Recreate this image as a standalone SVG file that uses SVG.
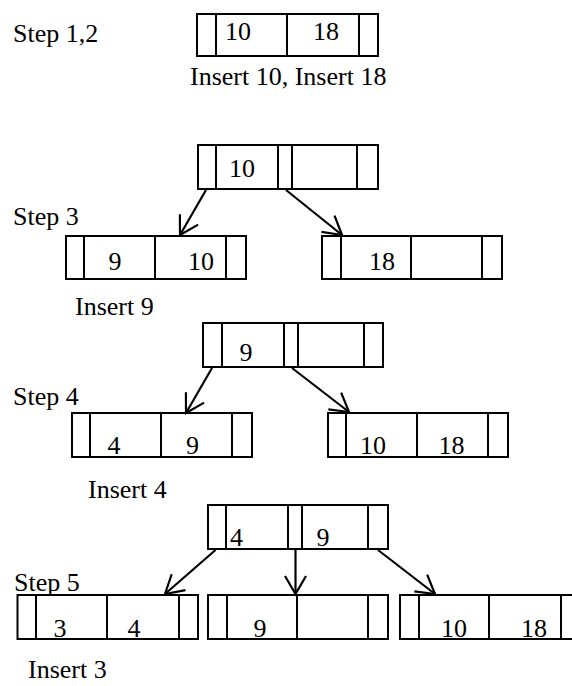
<svg xmlns="http://www.w3.org/2000/svg" width="572" height="686" viewBox="0 0 572 686">
  <style>
    .box { fill: #fff; stroke: #000; stroke-width: 2; }
    .div { stroke: #000; stroke-width: 2; }
    text { font-family: 'Liberation Serif', serif; font-size: 26px; fill: #000; }
    .k { text-anchor: middle; }
    .edge { stroke: #000; stroke-width: 2.2; fill: none; marker-end: url(#arr); }
  </style>
  <defs>
    <marker id="arr" markerUnits="userSpaceOnUse" markerWidth="30" markerHeight="30" refX="0" refY="0" orient="auto" overflow="visible">
      <path d="M-18,-10.5 L0,0 L-18,10.5" fill="none" stroke="#000" stroke-width="2.2"/>
    </marker>
  </defs>
  <rect width="572" height="686" fill="#fff"/>

  <!-- captions -->
  <g id="labels" font-family="Liberation Serif, serif">
    <text x="13" y="42">Step 1,2</text>
    <text x="190" y="85">Insert 10, Insert 18</text>
    <text x="13" y="225">Step 3</text>
    <text x="75" y="315">Insert 9</text>
    <text x="13" y="405">Step 4</text>
    <text x="88" y="498">Insert 4</text>
    <text x="14" y="591">Step 5</text>
    <text x="28" y="678">Insert 3</text>
  </g>

  <!-- steps 1,2 -->
  <g id="n1" font-family="Liberation Serif, serif">
    <rect class="box" x="197" y="14" width="181" height="42"/>
    <line class="div" x1="216" y1="14" x2="216" y2="56"/>
    <line class="div" x1="287" y1="14" x2="287" y2="56"/>
    <line class="div" x1="359" y1="14" x2="359" y2="56"/>
    <text class="k" x="238" y="40">10</text>
    <text class="k" x="326" y="40">18</text>
  </g>

  <!-- step 3 -->
  <g id="n3root" font-family="Liberation Serif, serif">
    <rect class="box" x="198" y="145" width="180" height="44"/>
    <line class="div" x1="216" y1="145" x2="216" y2="189"/>
    <line class="div" x1="278" y1="145" x2="278" y2="189"/>
    <line class="div" x1="292" y1="145" x2="292" y2="189"/>
    <line class="div" x1="357" y1="145" x2="357" y2="189"/>
    <text class="k" x="242" y="177">10</text>
  </g>
  <g id="n3left" font-family="Liberation Serif, serif">
    <rect class="box" x="66" y="236" width="180" height="43"/>
    <line class="div" x1="84" y1="236" x2="84" y2="279"/>
    <line class="div" x1="155" y1="236" x2="155" y2="279"/>
    <line class="div" x1="226" y1="236" x2="226" y2="279"/>
    <text class="k" x="115" y="270">9</text>
    <text class="k" x="201" y="270">10</text>
  </g>
  <g id="n3right" font-family="Liberation Serif, serif">
    <rect class="box" x="322" y="236" width="180" height="43"/>
    <line class="div" x1="341" y1="236" x2="341" y2="279"/>
    <line class="div" x1="411" y1="236" x2="411" y2="279"/>
    <line class="div" x1="482" y1="236" x2="482" y2="279"/>
    <text class="k" x="382" y="270">18</text>
  </g>

  <!-- step 4 -->
  <g id="n4root" font-family="Liberation Serif, serif">
    <rect class="box" x="203" y="323" width="180" height="44"/>
    <line class="div" x1="222" y1="323" x2="222" y2="367"/>
    <line class="div" x1="284" y1="323" x2="284" y2="367"/>
    <line class="div" x1="298" y1="323" x2="298" y2="367"/>
    <line class="div" x1="364" y1="323" x2="364" y2="367"/>
    <text class="k" x="246" y="361">9</text>
  </g>
  <g id="n4left" font-family="Liberation Serif, serif">
    <rect class="box" x="72" y="413" width="180" height="44"/>
    <line class="div" x1="90" y1="413" x2="90" y2="457"/>
    <line class="div" x1="161" y1="413" x2="161" y2="457"/>
    <line class="div" x1="232" y1="413" x2="232" y2="457"/>
    <text class="k" x="114" y="454">4</text>
    <text class="k" x="192.5" y="454">9</text>
  </g>
  <g id="n4right" font-family="Liberation Serif, serif">
    <rect class="box" x="328" y="413" width="180" height="44"/>
    <line class="div" x1="346" y1="413" x2="346" y2="457"/>
    <line class="div" x1="417" y1="413" x2="417" y2="457"/>
    <line class="div" x1="488" y1="413" x2="488" y2="457"/>
    <text class="k" x="373" y="454">10</text>
    <text class="k" x="451.5" y="454">18</text>
  </g>

  <!-- step 5 -->
  <g id="n5root" font-family="Liberation Serif, serif">
    <rect class="box" x="208" y="505" width="180" height="44"/>
    <line class="div" x1="226" y1="505" x2="226" y2="549"/>
    <line class="div" x1="288" y1="505" x2="288" y2="549"/>
    <line class="div" x1="302" y1="505" x2="302" y2="549"/>
    <line class="div" x1="368" y1="505" x2="368" y2="549"/>
    <text class="k" x="236.5" y="546">4</text>
    <text class="k" x="323" y="546">9</text>
  </g>
  <g id="n5left" font-family="Liberation Serif, serif">
    <rect class="box" x="17.5" y="595" width="180.5" height="44"/>
    <line class="div" x1="36" y1="595" x2="36" y2="639"/>
    <line class="div" x1="107" y1="595" x2="107" y2="639"/>
    <line class="div" x1="179" y1="595" x2="179" y2="639"/>
    <text class="k" x="60" y="637">3</text>
    <text class="k" x="134" y="637">4</text>
  </g>
  <g id="n5mid" font-family="Liberation Serif, serif">
    <rect class="box" x="208" y="595" width="180" height="44"/>
    <line class="div" x1="227" y1="595" x2="227" y2="639"/>
    <line class="div" x1="297" y1="595" x2="297" y2="639"/>
    <line class="div" x1="368" y1="595" x2="368" y2="639"/>
    <text class="k" x="260" y="637">9</text>
  </g>
  <g id="n5right" font-family="Liberation Serif, serif">
    <rect class="box" x="400" y="595" width="180" height="44"/>
    <line class="div" x1="419" y1="595" x2="419" y2="639"/>
    <line class="div" x1="489" y1="595" x2="489" y2="639"/>
    <line class="div" x1="561" y1="595" x2="561" y2="639"/>
    <text class="k" x="454" y="637">10</text>
    <text class="k" x="534" y="637">18</text>
  </g>

  <!-- connectors -->
  <g id="edges">
    <line class="edge" x1="206" y1="190" x2="180" y2="235"/>
    <line class="edge" x1="286" y1="190" x2="342" y2="235"/>
    <line class="edge" x1="212" y1="368" x2="186" y2="413"/>
    <line class="edge" x1="292" y1="368" x2="349" y2="412"/>
    <line class="edge" x1="215.5" y1="550" x2="165" y2="594"/>
    <line class="edge" x1="295.5" y1="550" x2="295.5" y2="594"/>
    <line class="edge" x1="378" y1="550" x2="435" y2="594"/>
  </g>
</svg>
